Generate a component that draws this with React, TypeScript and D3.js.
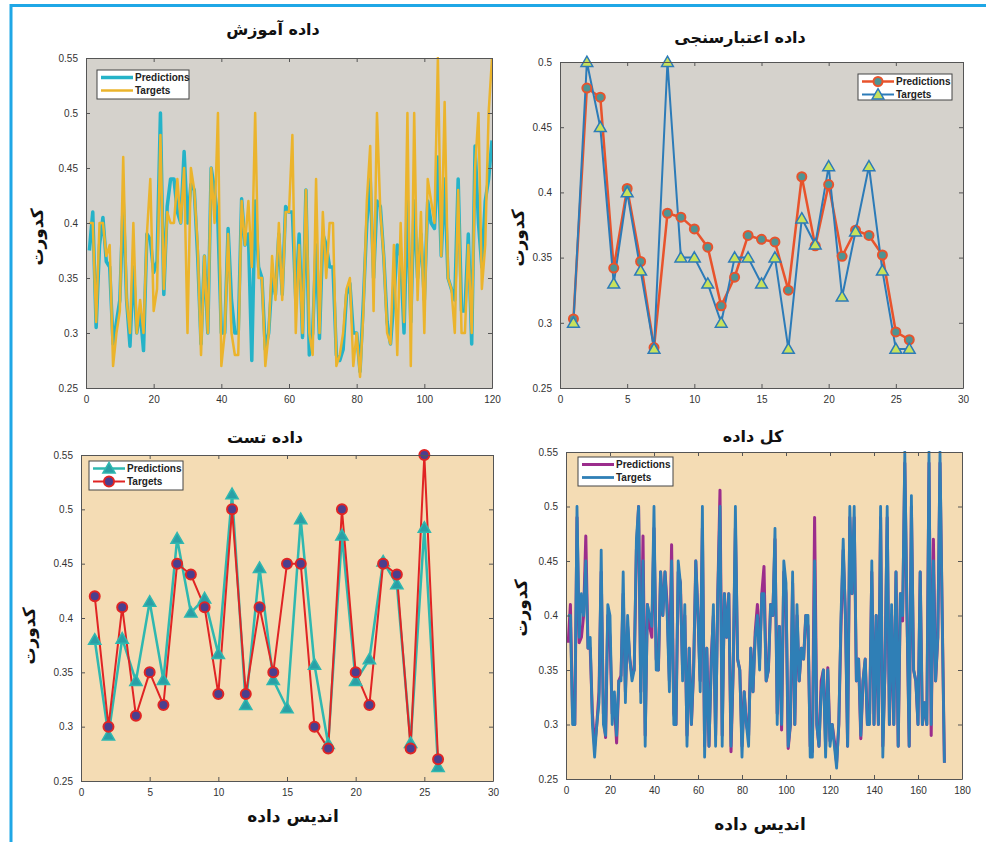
import React, { useEffect, useRef } from 'react';
import * as d3 from 'd3';

// training set (120 samples)
const trainPred = [
  0.375, 0.41, 0.305, 0.38, 0.405, 0.365, 0.36, 0.29, 0.31, 0.33,
  0.42, 0.33, 0.288, 0.36, 0.30, 0.32, 0.284, 0.39, 0.385, 0.355,
  0.365, 0.50, 0.335, 0.415, 0.44, 0.44, 0.41, 0.40, 0.465, 0.40,
  0.435, 0.43, 0.37, 0.29, 0.37, 0.30, 0.45, 0.43, 0.40, 0.30,
  0.30, 0.395, 0.33, 0.30, 0.30, 0.422, 0.38, 0.39, 0.275, 0.42,
  0.36, 0.35, 0.285, 0.30, 0.35, 0.335, 0.39, 0.335, 0.415, 0.41,
  0.41, 0.33, 0.39, 0.296, 0.43, 0.28, 0.30, 0.38, 0.295, 0.39,
  0.38, 0.36, 0.36, 0.28, 0.275, 0.285, 0.335, 0.345, 0.30, 0.30,
  0.265, 0.33, 0.40, 0.44, 0.35, 0.42, 0.415, 0.37, 0.31, 0.29,
  0.33, 0.38, 0.37, 0.30, 0.42, 0.31, 0.42, 0.35, 0.39, 0.33,
  0.42, 0.40, 0.395, 0.46, 0.37, 0.44, 0.35, 0.34, 0.33, 0.44,
  0.32, 0.32, 0.39, 0.29, 0.47, 0.40, 0.36, 0.42, 0.44, 0.475,
];
const trainTarget = [
  0.40, 0.40, 0.31, 0.40, 0.40, 0.37, 0.38, 0.27, 0.30, 0.32,
  0.46, 0.33, 0.30, 0.40, 0.30, 0.33, 0.30, 0.39, 0.44, 0.32,
  0.34, 0.48, 0.34, 0.41, 0.40, 0.40, 0.44, 0.40, 0.45, 0.30,
  0.45, 0.43, 0.38, 0.28, 0.37, 0.30, 0.45, 0.40, 0.50, 0.27,
  0.30, 0.39, 0.30, 0.28, 0.28, 0.42, 0.38, 0.42, 0.36, 0.50,
  0.35, 0.35, 0.27, 0.30, 0.37, 0.33, 0.40, 0.33, 0.41, 0.41,
  0.48, 0.30, 0.38, 0.30, 0.43, 0.30, 0.28, 0.44, 0.30, 0.41,
  0.35, 0.40, 0.40, 0.27, 0.28, 0.30, 0.34, 0.35, 0.27, 0.30,
  0.26, 0.32, 0.42, 0.47, 0.32, 0.50, 0.41, 0.37, 0.30, 0.29,
  0.38, 0.28, 0.40, 0.31, 0.50, 0.27, 0.50, 0.33, 0.41, 0.30,
  0.44, 0.42, 0.40, 0.55, 0.37, 0.51, 0.35, 0.34, 0.30, 0.43,
  0.30, 0.30, 0.38, 0.30, 0.45, 0.50, 0.34, 0.38, 0.50, 0.55,
];

// validation set (26 samples)
const valPred = [
  0.303, 0.48, 0.473, 0.342, 0.403, 0.347, 0.281, 0.384, 0.381, 0.372,
  0.358, 0.313, 0.335, 0.367, 0.364, 0.362, 0.325, 0.412, 0.359, 0.406,
  0.351, 0.371, 0.367, 0.352, 0.293, 0.287,
];
const valTarget = [
  0.30, 0.50, 0.45, 0.33, 0.40, 0.34, 0.28, 0.50, 0.35, 0.35,
  0.33, 0.30, 0.35, 0.35, 0.33, 0.35, 0.28, 0.38, 0.36, 0.42,
  0.32, 0.37, 0.42, 0.34, 0.28, 0.28,
];

// test set (26 samples)
const testPred = [
  0.380, 0.292, 0.381, 0.342, 0.415, 0.343, 0.473, 0.405, 0.418, 0.367,
  0.514, 0.320, 0.446, 0.343, 0.317, 0.491, 0.357, 0.284, 0.476, 0.342,
  0.362, 0.452, 0.431, 0.285, 0.483, 0.263,
];
const testTarget = [
  0.42, 0.30, 0.41, 0.31, 0.35, 0.32, 0.45, 0.44, 0.41, 0.33,
  0.50, 0.33, 0.41, 0.35, 0.45, 0.45, 0.30, 0.28, 0.50, 0.35,
  0.32, 0.45, 0.44, 0.28, 0.55, 0.27,
];

// whole data set (172 samples)
const allPred = [
  0.375, 0.41, 0.31, 0.30, 0.49, 0.375, 0.38, 0.40, 0.473, 0.37,
  0.37, 0.31, 0.28, 0.30, 0.33, 0.44, 0.31, 0.288, 0.40, 0.38,
  0.31, 0.32, 0.283, 0.34, 0.345, 0.42, 0.33, 0.39, 0.36, 0.345,
  0.35, 0.46, 0.50, 0.33, 0.473, 0.29, 0.41, 0.39, 0.38, 0.48,
  0.36, 0.35, 0.44, 0.40, 0.44, 0.41, 0.34, 0.465, 0.31, 0.30,
  0.44, 0.43, 0.35, 0.40, 0.29, 0.37, 0.30, 0.35, 0.45, 0.40,
  0.34, 0.48, 0.28, 0.37, 0.28, 0.36, 0.40, 0.29, 0.42, 0.515,
  0.29, 0.42, 0.38, 0.42, 0.275, 0.35, 0.48, 0.36, 0.35, 0.28,
  0.33, 0.30, 0.29, 0.37, 0.33, 0.385, 0.41, 0.36, 0.42, 0.445,
  0.34, 0.35, 0.41, 0.40, 0.47, 0.31, 0.39, 0.295, 0.44, 0.42,
  0.278, 0.30, 0.43, 0.30, 0.40, 0.34, 0.37, 0.36, 0.40, 0.39,
  0.28, 0.275, 0.49, 0.30, 0.28, 0.34, 0.35, 0.28, 0.352, 0.285,
  0.30, 0.285, 0.265, 0.30, 0.39, 0.46, 0.40, 0.28, 0.49, 0.42,
  0.49, 0.34, 0.36, 0.287, 0.34, 0.36, 0.30, 0.31, 0.44, 0.30,
  0.40, 0.30, 0.49, 0.28, 0.35, 0.49, 0.30, 0.40, 0.30, 0.44,
  0.28, 0.42, 0.395, 0.54, 0.40, 0.28, 0.50, 0.35, 0.34, 0.30,
  0.44, 0.30, 0.32, 0.30, 0.54, 0.29, 0.47, 0.34, 0.38, 0.54,
  0.40, 0.265,
];
const allTarget = [
  0.40, 0.40, 0.30, 0.30, 0.50, 0.38, 0.42, 0.40, 0.45, 0.37,
  0.38, 0.30, 0.27, 0.30, 0.32, 0.46, 0.30, 0.29, 0.41, 0.40,
  0.30, 0.33, 0.29, 0.34, 0.34, 0.44, 0.32, 0.40, 0.36, 0.34,
  0.35, 0.47, 0.50, 0.32, 0.45, 0.28, 0.41, 0.40, 0.39, 0.50,
  0.35, 0.35, 0.44, 0.40, 0.44, 0.40, 0.33, 0.45, 0.30, 0.30,
  0.45, 0.43, 0.34, 0.41, 0.28, 0.37, 0.30, 0.35, 0.45, 0.40,
  0.33, 0.50, 0.27, 0.37, 0.28, 0.35, 0.41, 0.28, 0.42, 0.50,
  0.28, 0.42, 0.38, 0.42, 0.28, 0.35, 0.50, 0.36, 0.35, 0.27,
  0.33, 0.30, 0.28, 0.37, 0.33, 0.38, 0.40, 0.35, 0.42, 0.42,
  0.34, 0.35, 0.41, 0.40, 0.48, 0.30, 0.39, 0.30, 0.45, 0.43,
  0.28, 0.30, 0.44, 0.30, 0.41, 0.34, 0.37, 0.36, 0.40, 0.40,
  0.27, 0.27, 0.45, 0.30, 0.28, 0.33, 0.35, 0.27, 0.35, 0.28,
  0.30, 0.28, 0.26, 0.30, 0.40, 0.47, 0.40, 0.28, 0.50, 0.42,
  0.50, 0.34, 0.36, 0.29, 0.34, 0.36, 0.30, 0.30, 0.45, 0.30,
  0.40, 0.30, 0.50, 0.27, 0.35, 0.50, 0.30, 0.41, 0.30, 0.44,
  0.28, 0.42, 0.40, 0.55, 0.40, 0.28, 0.51, 0.35, 0.34, 0.30,
  0.44, 0.30, 0.32, 0.30, 0.55, 0.30, 0.45, 0.34, 0.38, 0.55,
  0.40, 0.265,
];

const yTicks55 = [0.25, 0.3, 0.35, 0.4, 0.45, 0.5, 0.55];
const yTicks50 = [0.25, 0.3, 0.35, 0.4, 0.45, 0.5];
const xTicks30 = [0, 5, 10, 15, 20, 25, 30];
const xTicks120 = [0, 20, 40, 60, 80, 100, 120];
const xTicks180 = [0, 20, 40, 60, 80, 100, 120, 140, 160, 180];

const FA = '"DejaVu Sans", sans-serif';
const LAT = '"Liberation Sans", Arial, sans-serif';

function drawMarker(g, kind, cx, cy, s) {
  if (kind === 'circle') {
    g.append('circle').attr('cx', cx).attr('cy', cy).attr('r', s.r)
      .attr('fill', s.fill).attr('stroke', s.stroke).attr('stroke-width', s.sw);
  } else if (kind === 'triangle') {
    g.append('path').attr('d', d3.symbol(d3.symbolTriangle, s.size)())
      .attr('transform', `translate(${cx},${cy + 1})`)
      .attr('fill', s.fill).attr('stroke', s.stroke).attr('stroke-width', s.sw);
  }
}

function drawPanel(svg, p, idx) {
  const g = svg.append('g');
  const x = d3.scaleLinear().domain(p.xDomain).range([p.left, p.right]);
  const y = d3.scaleLinear().domain(p.yDomain).range([p.bottom, p.top]);

  g.append('rect')
    .attr('x', p.left).attr('y', p.top)
    .attr('width', p.right - p.left).attr('height', p.bottom - p.top)
    .attr('fill', p.bg);

  const clipId = `clip${idx}`;
  g.append('clipPath').attr('id', clipId).append('rect')
    .attr('x', p.left).attr('y', p.top - 1)
    .attr('width', p.right - p.left).attr('height', p.bottom - p.top + 2);

  const plot = g.append('g').attr('clip-path', `url(#${clipId})`);
  const line = d3.line().x((d, i) => x(i + 1)).y((d) => y(d));

  p.series.forEach((s) => {
    plot.append('path').datum(s.values).attr('d', line)
      .attr('fill', 'none').attr('stroke', s.color)
      .attr('stroke-width', s.width).attr('stroke-linejoin', 'round');
    if (s.marker) {
      s.values.forEach((v, i) => drawMarker(g, s.marker, x(i + 1), y(v), s.ms));
    }
  });

  // box axes, matlab style ticks pointing inward
  const styleAxis = (a) => {
    a.attr('font-family', LAT).attr('font-size', 10);
    a.selectAll('path, line').attr('stroke', '#555');
    a.selectAll('text').attr('fill', '#333');
  };
  g.append('g').attr('transform', `translate(0,${p.bottom})`)
    .call(d3.axisBottom(x).tickValues(p.xTicks).tickSizeInner(-4).tickSizeOuter(0).tickPadding(8))
    .call(styleAxis);
  g.append('g').attr('transform', `translate(0,${p.top})`)
    .call(d3.axisTop(x).tickValues(p.xTicks).tickSizeInner(-4).tickSizeOuter(0).tickFormat(() => ''))
    .call(styleAxis);
  g.append('g').attr('transform', `translate(${p.left},0)`)
    .call(d3.axisLeft(y).tickValues(p.yTicks).tickSizeInner(-4).tickSizeOuter(0).tickPadding(8).tickFormat((d) => String(d)))
    .call(styleAxis);
  g.append('g').attr('transform', `translate(${p.right},0)`)
    .call(d3.axisRight(y).tickValues(p.yTicks).tickSizeInner(-4).tickSizeOuter(0).tickFormat(() => ''))
    .call(styleAxis);

  // legend
  const L = p.legend;
  const lg = g.append('g');
  lg.append('rect').attr('x', L.x).attr('y', L.y).attr('width', L.w).attr('height', L.h)
    .attr('fill', '#fff').attr('stroke', '#444').attr('stroke-width', 1);
  p.series.forEach((s, i) => {
    const ry = L.y + 7.5 + i * 13;
    lg.append('line').attr('x1', L.x + 4).attr('x2', L.x + 36).attr('y1', ry).attr('y2', ry)
      .attr('stroke', s.color).attr('stroke-width', s.width);
    if (s.marker) drawMarker(lg, s.marker, L.x + 20, ry, s.ms);
    lg.append('text').attr('x', L.x + 38).attr('y', ry + 3.5)
      .attr('font-family', LAT).attr('font-size', 10).attr('font-weight', 'bold')
      .attr('fill', '#222').text(s.label);
  });

  // titles
  g.append('text').attr('x', p.titleX).attr('y', p.titleY).attr('text-anchor', 'middle')
    .attr('font-family', FA).attr('font-weight', 'bold').attr('font-size', 16)
    .attr('fill', '#111').text(p.title);
  g.append('text').attr('transform', `translate(${p.ylabX},${p.ylabY}) rotate(-90)`)
    .attr('text-anchor', 'middle').attr('dominant-baseline', 'middle')
    .attr('font-family', FA).attr('font-weight', 'bold').attr('font-size', 17)
    .attr('fill', '#111').text('کدورت');
  if (p.xlabel) {
    g.append('text').attr('x', p.xlabX).attr('y', p.xlabY).attr('text-anchor', 'middle')
      .attr('font-family', FA).attr('font-weight', 'bold').attr('font-size', 17)
      .attr('fill', '#111').text(p.xlabel);
  }
}

export default function App() {
  const svgRef = useRef(null);

  useEffect(() => {
    const svg = d3.select(svgRef.current);
    svg.selectAll('*').remove();

    svg.append('rect').attr('width', 986).attr('height', 842).attr('fill', '#fff');
    svg.append('path').attr('d', 'M11,842 L11,5.5 L986,5.5')
      .attr('fill', 'none').attr('stroke', '#1fa7e6').attr('stroke-width', 3);

    const gray = '#d5d2cc';
    const wheat = '#f4dcb4';

    const panels = [
      {
        left: 86, right: 492, top: 58, bottom: 388,
        xDomain: [0, 120], yDomain: [0.25, 0.55], xTicks: xTicks120, yTicks: yTicks55, bg: gray,
        title: 'داده آموزش', titleX: 273, titleY: 35, ylabX: 38, ylabY: 237,
        legend: { x: 97, y: 70, w: 92, h: 29 },
        series: [
          { label: 'Predictions', values: trainPred, color: '#25b3c8', width: 3.5 },
          { label: 'Targets', values: trainTarget, color: '#ebb42c', width: 2.5 },
        ],
      },
      {
        left: 560, right: 963, top: 62, bottom: 388,
        xDomain: [0, 30], yDomain: [0.25, 0.5], xTicks: xTicks30, yTicks: yTicks50, bg: gray,
        title: 'داده اعتبارسنجی', titleX: 740, titleY: 43, ylabX: 519, ylabY: 238,
        legend: { x: 858, y: 74, w: 94, h: 26 },
        series: [
          { label: 'Predictions', values: valPred, color: '#e8532c', width: 2.5, marker: 'circle',
            ms: { r: 4.5, fill: '#4e9494', stroke: '#e8532c', sw: 2 } },
          { label: 'Targets', values: valTarget, color: '#2c7bb8', width: 2, marker: 'triangle',
            ms: { size: 60, fill: '#c8e25c', stroke: '#2c7bb8', sw: 1.5 } },
        ],
      },
      {
        left: 81, right: 493, top: 455, bottom: 781,
        xDomain: [0, 30], yDomain: [0.25, 0.55], xTicks: xTicks30, yTicks: yTicks55, bg: wheat,
        title: 'داده تست', titleX: 265, titleY: 443, ylabX: 30, ylabY: 636,
        xlabel: 'اندیس داده', xlabX: 293, xlabY: 822,
        legend: { x: 89, y: 461, w: 94, h: 29 },
        series: [
          { label: 'Predictions', values: testPred, color: '#2fb8b0', width: 2.5, marker: 'triangle',
            ms: { size: 65, fill: '#2a9fa6', stroke: '#2fb8b0', sw: 1.5 } },
          { label: 'Targets', values: testTarget, color: '#e02424', width: 2, marker: 'circle',
            ms: { r: 5, fill: '#4b3f8e', stroke: '#e02424', sw: 2 } },
        ],
      },
      {
        left: 566, right: 962, top: 452, bottom: 779,
        xDomain: [0, 180], yDomain: [0.25, 0.55], xTicks: xTicks180, yTicks: yTicks55, bg: wheat,
        title: 'کل داده', titleX: 753, titleY: 442, ylabX: 522, ylabY: 608,
        xlabel: 'اندیس داده', xlabX: 760, xlabY: 830,
        legend: { x: 578, y: 457, w: 95, h: 29 },
        series: [
          { label: 'Predictions', values: allPred, color: '#9b2d8c', width: 3 },
          { label: 'Targets', values: allTarget, color: '#2f7fb6', width: 2.8 },
        ],
      },
    ];

    panels.forEach((p, i) => drawPanel(svg, p, i));
  }, []);

  return (
    <svg
      ref={svgRef}
      width={986}
      height={842}
      style={{ position: 'absolute', left: 0, top: 0 }}
    />
  );
}
